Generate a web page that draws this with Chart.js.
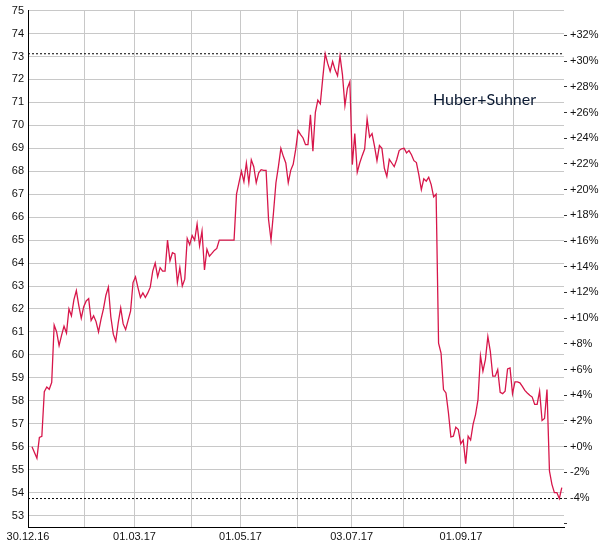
<!DOCTYPE html>
<html>
<head>
<meta charset="utf-8">
<script src="https://cdn.jsdelivr.net/npm/chart.js@4/dist/chart.umd.min.js"></script>
<style>
  body { margin: 0; background: #fff; }
  #wrap { width: 600px; height: 550px; }
</style>
</head>
<body>
<div id="wrap"><canvas id="chart" width="600" height="550"></canvas></div>
<script>
// daily closes, 30.12.16 .. end of Oct 2017 (one value per trading session)
const prices = [
  56.0, 55.75, 55.5, 56.4, 56.45, 58.4, 58.6, 58.5, 58.8, 61.3,
  61.0, 60.4, 60.85, 61.25, 60.95, 62.0, 61.7, 62.4, 62.8, 62.15,
  61.6, 62.1, 62.35, 62.45, 61.5, 61.7, 61.45, 61.0, 61.55, 62.0,
  62.6, 62.95, 61.65, 60.9, 60.6, 61.4, 62.05, 61.35, 61.1, 61.5,
  61.9, 63.15, 63.4,
  62.93, 62.5, 62.7, 62.5, 62.7, 62.95, 63.65, 64.0, 63.4, 63.8,
  63.65, 63.65, 65.0, 64.1, 64.45, 64.4, 63.15, 63.8, 63.0, 63.3,
  65.07, 64.8, 65.2, 65.0, 65.7, 64.75, 65.4, 63.7, 64.6, 64.3,
  64.42, 64.55, 64.64, 65.0, 65.0, 65.0, 65.0, 65.0, 65.0, 65.0,
  67.0, 67.5, 68.0, 67.55,
  68.36, 67.5, 68.5, 68.2, 67.5, 67.93, 68.07, 68.04, 68.04, 65.9,
  65.0, 66.19, 67.5, 68.2, 69.0, 68.65, 68.36, 67.5, 68.04, 68.3,
  68.94, 69.77, 69.6, 69.45, 69.16, 69.16, 70.46, 68.87, 70.57, 71.1,
  70.94, 72.06, 73.12, 72.7, 72.35, 72.78, 72.42, 72.16, 73.03, 72.2,
  70.86, 71.62, 71.9,
  68.29, 69.64, 67.96, 68.36, 68.68, 68.97, 70.28, 69.49, 69.64, 69.09,
  68.46, 69.12, 69.0, 68.13, 67.77, 68.52, 68.36, 68.2, 68.5, 68.9,
  68.98, 69.0, 68.8, 68.9, 68.72, 68.46, 68.38, 67.84, 67.2, 67.67,
  67.57, 67.74, 67.42, 66.88, 67.0,
  60.51, 60.08, 58.49, 58.34, 57.48, 56.43, 56.46, 56.85, 56.75, 56.13,
  56.29, 55.26, 56.46, 56.29, 56.97, 57.4, 58.05, 59.96, 59.29, 59.79,
  60.8, 60.15, 59.07, 59.07, 59.36, 58.37, 58.31, 58.42, 59.39, 59.43,
  58.31, 58.82, 58.82, 58.78, 58.63, 58.45, 58.34, 58.24, 58.16, 57.84,
  57.84, 58.42, 57.14, 57.23, 58.49, 54.94, 54.36, 54.0, 54.0, 53.74,
  54.22
];

// month grid lines, in session index units, and their labels
const gridPos = [-1.62, 21.4, 41.6, 64.7, 84.6, 107.8, 129.7, 150.9, 174.1, 195.3];
const gridLabels = ['30.12.16', '', '01.03.17', '', '01.05.17', '', '03.07.17', '', '01.09.17', ''];

const priceTicks = [];
for (let v = 53; v <= 75; v++) priceTicks.push(v);
const pctTicks = [];
for (let p = -6; p <= 32; p += 2) pctTicks.push(p);

const stockName = 'Huber+Suhner';

const yMin = 52.5, yMax = 75;
const xMin = -1.62, xMax = 215.9;
const base = prices[0];
const hi = Math.max(...prices);
const lo = Math.min(...prices);

const font = { family: "'Liberation Sans', Arial, sans-serif", size: 11 };

const nameLabel = {
  id: 'nameLabel',
  afterDraw(chart) {
    const ctx = chart.ctx;
    ctx.save();
    ctx.font = "16px Lato, 'Open Sans', sans-serif";
    ctx.fillStyle = '#0b1a33';
    ctx.textBaseline = 'alphabetic';
    ctx.fillText(stockName, 433, 105);
    ctx.restore();
  }
};

const ctx = document.getElementById('chart').getContext('2d');
new Chart(ctx, {
  type: 'line',
  data: {
    datasets: [
      {
        data: prices.map((p, i) => ({ x: i, y: p })),
        borderColor: '#d7164a',
        borderWidth: 1.3,
        pointRadius: 0,
        tension: 0,
        yAxisID: 'y'
      },
      {
        data: [{ x: xMin, y: hi }, { x: xMax, y: hi }],
        borderColor: '#000',
        borderWidth: 1,
        borderDash: [2, 2],
        pointRadius: 0,
        yAxisID: 'y'
      },
      {
        data: [{ x: xMin, y: lo }, { x: xMax, y: lo }],
        borderColor: '#000',
        borderWidth: 1,
        borderDash: [2, 2],
        pointRadius: 0,
        yAxisID: 'y'
      }
    ]
  },
  options: {
    responsive: false,
    animation: false,
    devicePixelRatio: 1,
    layout: { padding: { top: 10, bottom: 0, left: 0, right: 0 } },
    plugins: { legend: { display: false }, tooltip: { enabled: false } },
    scales: {
      x: {
        type: 'linear',
        min: xMin,
        max: xMax,
        afterBuildTicks: s => { s.ticks = gridPos.map(v => ({ value: v })); },
        afterFit: s => { s.height = 23; },
        ticks: {
          autoSkip: false,
          maxRotation: 0,
          padding: 3,
          color: '#111',
          font: font,
          callback: (v, i) => gridLabels[i]
        },
        grid: { color: '#c8c8c8', drawTicks: false },
        border: { display: true, color: '#000', width: 1 }
      },
      y: {
        position: 'left',
        min: yMin,
        max: yMax,
        afterBuildTicks: s => { s.ticks = priceTicks.map(v => ({ value: v })); },
        afterFit: s => { s.width = 28; },
        ticks: { padding: 4, color: '#111', font: font },
        grid: { color: '#c8c8c8', drawTicks: false },
        border: { display: true, color: '#000', width: 1 }
      },
      pct: {
        position: 'right',
        min: (yMin / base - 1) * 100,
        max: (yMax / base - 1) * 100,
        afterBuildTicks: s => { s.ticks = pctTicks.map(v => ({ value: v })); },
        afterFit: s => { s.width = 36; },
        ticks: {
          padding: 3,
          color: '#111',
          font: font,
          callback: v => v === -6 ? '' : (v >= 0 ? '+' : '') + v + '%'
        },
        grid: { drawOnChartArea: false, drawTicks: true, tickLength: 3, color: '#333' },
        border: { display: false }
      }
    }
  },
  plugins: [nameLabel]
});
</script>
</body>
</html>
